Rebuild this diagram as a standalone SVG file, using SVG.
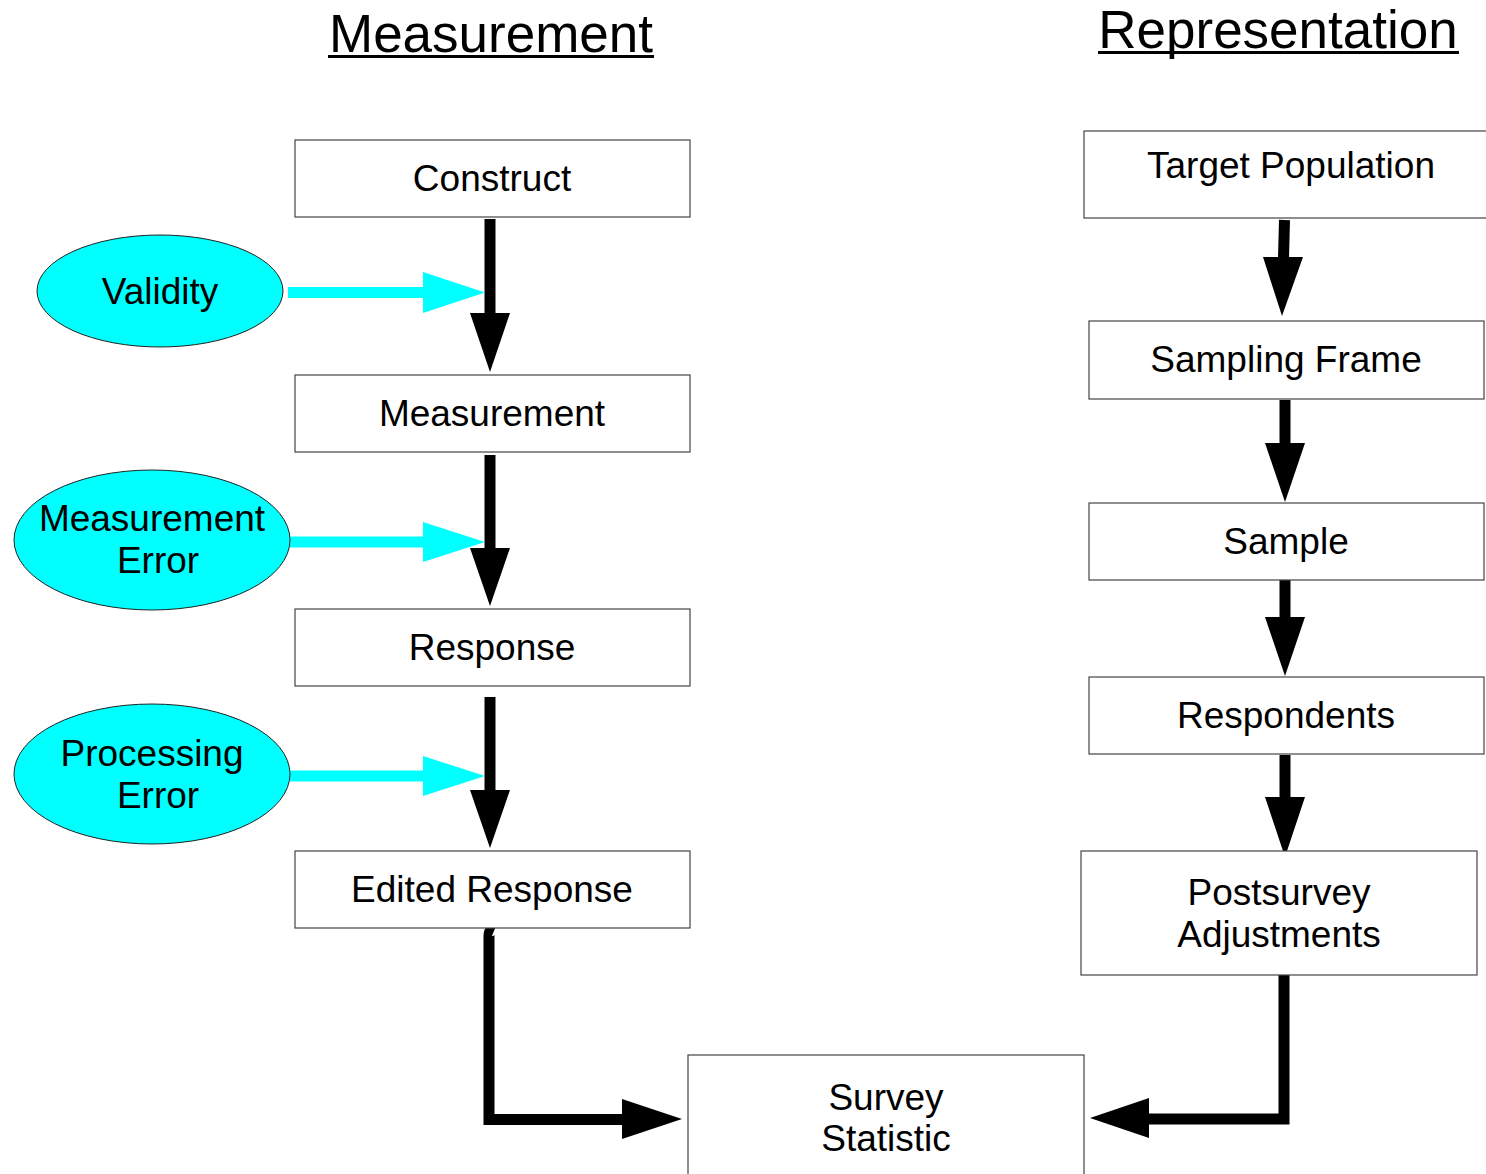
<svg xmlns="http://www.w3.org/2000/svg" width="1486" height="1174" viewBox="0 0 1486 1174">
<style>
text{font-family:"Liberation Sans",Arial,sans-serif;fill:#000;text-anchor:middle}
.t{font-size:37px}
.h{font-size:53px}
.box{fill:#fff;stroke:#444;stroke-width:1.2}
.ell{fill:#00ffff;stroke:#222;stroke-width:1}
.shaft{stroke:#000;stroke-width:11;fill:none}
.head{fill:#000}
.cshaft{stroke:#00ffff;stroke-width:11;fill:none}
.chead{fill:#00ffff}
</style>
<rect width="1486" height="1174" fill="#fff"/>
<g id="titles">
<text class="h" x="491" y="52">Measurement</text>
<rect x="328" y="55" width="326" height="3" fill="#000"/>
<text class="h" x="1278" y="48">Representation</text>
<rect x="1098" y="51" width="361" height="3" fill="#000"/>
</g>
<g id="connectors">
<path class="shaft" d="M490 219V314"/>
<polygon class="head" points="470,313 490,372 510,313"/>
<path class="shaft" d="M490 455V549"/>
<polygon class="head" points="470,548 490,606 510,548"/>
<path class="shaft" d="M490 697V791"/>
<polygon class="head" points="470,790 490,848 510,790"/>
<path class="cshaft" d="M288 292.5H424"/>
<polygon class="chead" points="423,272 485,292.5 423,313"/>
<path class="cshaft" d="M290 542H424"/>
<polygon class="chead" points="423,522 485,542 423,562"/>
<path class="cshaft" d="M290 776H424"/>
<polygon class="chead" points="423,756 485,776 423,796"/>
<path class="shaft" d="M1284.5 220L1283.5 258"/>
<polygon class="head" points="1263,257 1282,316 1303,257"/>
<path class="shaft" d="M1285 400V444"/>
<polygon class="head" points="1265,443 1285,502 1305,443"/>
<path class="shaft" d="M1285 575V618"/>
<polygon class="head" points="1265,617 1285,676 1305,617"/>
<path class="shaft" d="M1285 755V798"/>
<polygon class="head" points="1265,797 1285,857 1305,797"/>
<path class="shaft" d="M494 931Q489 929 489 936V1119.5H623" stroke-linejoin="miter"/>
<polygon class="head" points="622,1099 682,1119 622,1139"/>
<path class="shaft" d="M1284 970V1119H1148" stroke-linejoin="miter"/>
<polygon class="head" points="1149,1098 1090,1118 1149,1138"/>
</g>
<g id="construct"><rect class="box" x="295" y="140" width="395" height="77"/><text class="t" x="492" y="191">Construct</text></g>
<g id="measurement"><rect class="box" x="295" y="375" width="395" height="77"/><text class="t" x="492" y="426">Measurement</text></g>
<g id="response"><rect class="box" x="295" y="609" width="395" height="77"/><text class="t" x="492" y="660">Response</text></g>
<g id="edited-response"><rect class="box" x="295" y="851" width="395" height="77"/><text class="t" x="492" y="902">Edited Response</text></g>
<g id="validity"><ellipse class="ell" cx="160" cy="291" rx="123" ry="56"/><text class="t" x="160" y="304">Validity</text></g>
<g id="measurement-error"><ellipse class="ell" cx="152" cy="540" rx="138" ry="70"/><text class="t" x="152" y="531">Measurement</text><text class="t" x="158" y="573">Error</text></g>
<g id="processing-error"><ellipse class="ell" cx="152" cy="774" rx="138" ry="70"/><text class="t" x="152" y="766">Processing</text><text class="t" x="158" y="808">Error</text></g>
<g id="target-population"><rect class="box" x="1084" y="131" width="410" height="87"/><text class="t" x="1291" y="178">Target Population</text></g>
<g id="sampling-frame"><rect class="box" x="1089" y="321" width="395" height="78"/><text class="t" x="1286" y="372">Sampling Frame</text></g>
<g id="sample"><rect class="box" x="1089" y="503" width="395" height="77"/><text class="t" x="1286" y="554">Sample</text></g>
<g id="respondents"><rect class="box" x="1089" y="677" width="395" height="77"/><text class="t" x="1286" y="728">Respondents</text></g>
<g id="postsurvey-adjustments"><rect class="box" x="1081" y="851" width="396" height="124"/><text class="t" x="1279" y="905">Postsurvey</text><text class="t" x="1279" y="947">Adjustments</text></g>
<g id="survey-statistic"><rect class="box" x="688" y="1055" width="396" height="130"/><text class="t" x="886" y="1110">Survey</text><text class="t" x="886" y="1151">Statistic</text></g>
</svg>
